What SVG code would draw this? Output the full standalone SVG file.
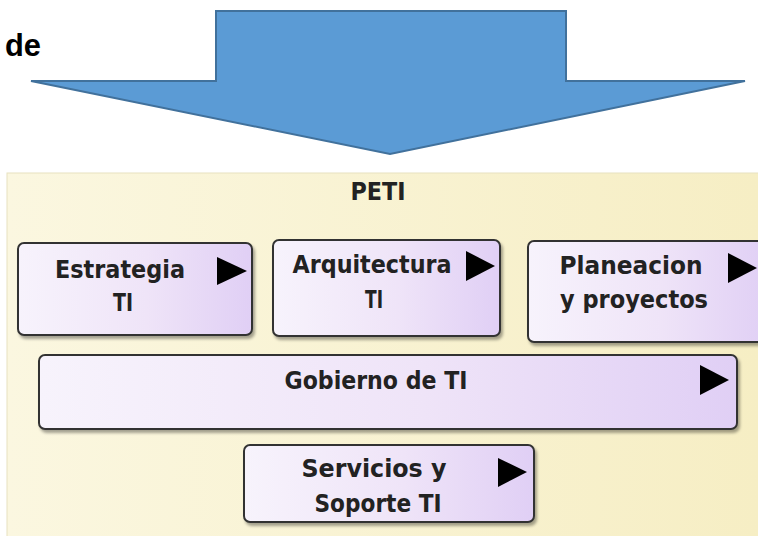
<svg xmlns="http://www.w3.org/2000/svg" width="758" height="536" viewBox="0 0 758 536">
<defs>
<linearGradient id="boxg" x1="0" y1="0" x2="1" y2="0">
<stop offset="0" stop-color="#F7F3FC"/>
<stop offset="0.55" stop-color="#EFE4F8"/>
<stop offset="1" stop-color="#E0CFF5"/>
</linearGradient>
<linearGradient id="peti" x1="0" y1="0" x2="1" y2="0">
<stop offset="0" stop-color="#FBF7E0"/>
<stop offset="1" stop-color="#F6EEC4"/>
</linearGradient>
<filter id="sh" x="-5%" y="-5%" width="115%" height="125%">
<feGaussianBlur in="SourceAlpha" stdDeviation="1.5"/>
<feOffset dx="2" dy="3" result="b"/>
<feComponentTransfer><feFuncA type="linear" slope="0.35"/></feComponentTransfer>
<feMerge><feMergeNode/><feMergeNode in="SourceGraphic"/></feMerge>
</filter>
</defs>
<style>
.box{fill:url(#boxg);stroke:#333;stroke-width:2;filter:url(#sh)}
.t{font-family:"DejaVu Sans",sans-serif;font-weight:bold;font-size:24px;fill:#222;text-anchor:middle}
.tri{fill:#000}
</style>
<rect width="758" height="536" fill="#fff"/>
<text x="5" y="56" font-family="Liberation Sans, Arial, sans-serif" font-weight="bold" font-size="31" fill="#000" textLength="36" lengthAdjust="spacingAndGlyphs">de</text>
<g id="arrow">
<polygon points="216,11 566,11 566,81 745,81 390,154 31,81 216,81" fill="#5B9BD5" stroke="#41719C" stroke-width="2"/>
</g>
<g id="peti-container">
<rect x="7" y="173" width="752" height="370" fill="url(#peti)" stroke="#E8E2C0" stroke-width="1"/>
<text class="t" x="378" y="200" font-size="20" textLength="55" lengthAdjust="spacingAndGlyphs">PETI</text>
</g>
<g id="estrategia">
<rect class="box" x="18" y="243" width="234" height="92" rx="6"/>
<text class="t" x="120" y="278" textLength="130" lengthAdjust="spacingAndGlyphs">Estrategia</text>
<text class="t" x="123" y="311" textLength="20" lengthAdjust="spacingAndGlyphs">TI</text>
<polygon class="tri" points="217,257 247,271 217,285"/>
</g>
<g id="arquitectura">
<rect class="box" x="273" y="240" width="227" height="96" rx="6"/>
<text class="t" x="372" y="273" textLength="159" lengthAdjust="spacingAndGlyphs">Arquitectura</text>
<text class="t" x="374" y="308" textLength="18" lengthAdjust="spacingAndGlyphs">TI</text>
<polygon class="tri" points="466,251 495,266 466,281"/>
</g>
<g id="planeacion">
<rect class="box" x="528" y="241" width="240" height="101" rx="6"/>
<text class="t" x="631" y="274" textLength="143" lengthAdjust="spacingAndGlyphs">Planeacion</text>
<text class="t" x="634" y="308" textLength="148" lengthAdjust="spacingAndGlyphs">y proyectos</text>
<polygon class="tri" points="728,253 757,268 728,283"/>
</g>
<g id="gobierno">
<rect class="box" x="39" y="355" width="698" height="74" rx="6"/>
<text class="t" x="376" y="389" font-size="26" textLength="183" lengthAdjust="spacingAndGlyphs">Gobierno de TI</text>
<polygon class="tri" points="700,365 729,380 700,395"/>
</g>
<g id="servicios">
<rect class="box" x="244" y="445" width="290" height="77" rx="6"/>
<text class="t" x="374" y="477" font-size="26" textLength="145" lengthAdjust="spacingAndGlyphs">Servicios y</text>
<text class="t" x="378" y="512" font-size="26" textLength="127" lengthAdjust="spacingAndGlyphs">Soporte TI</text>
<polygon class="tri" points="498,458 527,472 498,487"/>
</g>
<g id="connectors"/>
</svg>
